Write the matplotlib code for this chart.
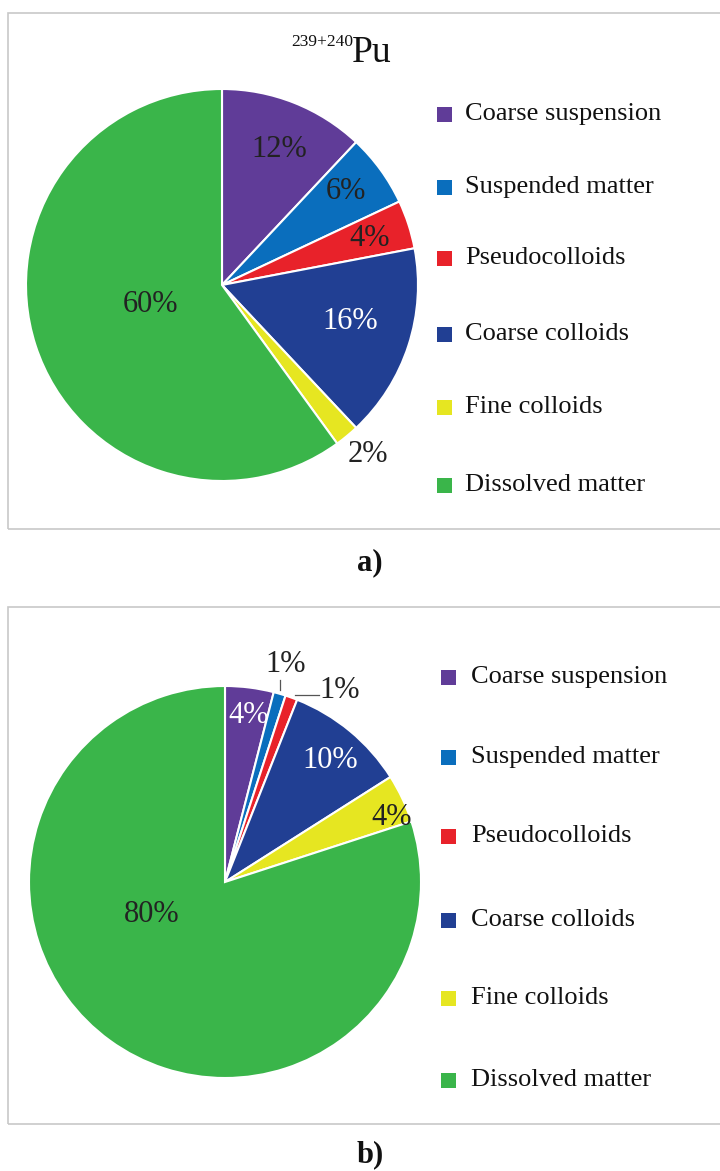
import numpy as np
import matplotlib
matplotlib.use("Agg")
import matplotlib.pyplot as plt
from matplotlib.patches import Rectangle
from matplotlib.lines import Line2D

plt.rcParams['font.family'] = ['Liberation Serif', 'DejaVu Serif']

# ---- data ----
categories = ["Coarse suspension", "Suspended matter", "Pseudocolloids",
              "Coarse colloids", "Fine colloids", "Dissolved matter"]
shares_a = [12, 6, 4, 16, 2, 60]
shares_b = [4, 1, 1, 10, 4, 80]
title_mass = "239+240"
title_elem = "Pu"
panel_tags = ["a)", "b)"]

colors = ["#603C98", "#0A6EBD", "#E8222A", "#213F93", "#E6E621", "#3AB54A"]

W, H = 720, 1171
fig = plt.figure(figsize=(W / 100, H / 100), dpi=100)


def fx(x):
    return x / W


def fy(y):
    return 1 - y / H


def pie_axes(cx, cy, r):
    return fig.add_axes([fx(cx - r), fy(cy + r), 2 * r / W, 2 * r / H])


# panel frames
for top, bottom in [(13, 529), (607, 1124)]:
    fig.patches.append(Rectangle((fx(8), fy(bottom)), fx(740) - fx(8), fy(top) - fy(bottom),
                                 transform=fig.transFigure, fill=False,
                                 edgecolor="#C8C8C8", linewidth=1.2))

# label placement per slice: (radial distance, angle nudge in degrees, text colour)
label_style_a = [(0.75, -1.5, "#222222"), (0.79, 1.0, "#222222"), (0.79, -0.5, "#222222"),
                 (0.68, 2.0, "white"), (1.14, 1.0, "#222222"), (0.38, -2.5, "#222222")]
label_style_b = [(0.86, -1.0, "white"), (1.15, 0.7, "#222222"), (1.14, -11.0, "#222222"),
                 (0.82, -1.5, "white"), (0.91, -4.0, "#222222"), (0.41, -30.0, "#222222")]


def draw_pie(cx, cy, r, values, styles):
    ax = pie_axes(cx, cy, r)
    wedges, _ = ax.pie(values, colors=colors, startangle=90, counterclock=False,
                       radius=1.0, wedgeprops=dict(edgecolor="white", linewidth=1.5))
    ax.set_xlim(-1, 1)
    ax.set_ylim(-1, 1)
    ax.set_aspect("auto")
    ax.axis("off")
    mids = []
    for w, v, (dist, nudge, col) in zip(wedges, values, styles):
        mid = np.deg2rad((w.theta1 + w.theta2) / 2)
        mids.append(mid)
        ang = mid + np.deg2rad(nudge)
        ax.text(dist * np.cos(ang), dist * np.sin(ang), f"{v}%",
                ha="center", va="center", fontsize=22, color=col, clip_on=False)
    return ax, mids


# panel a
ax_a, _ = draw_pie(222, 285, 196, shares_a, label_style_a)

# panel b
ax_b, mids_b = draw_pie(225, 882, 196, shares_b, label_style_b)

# leader lines for the two thin slices of panel b
m1 = mids_b[1]
x1, y1 = np.cos(m1), np.sin(m1)
ax_b.add_line(Line2D([x1, x1], [y1 + 0.02, y1 + 0.07], color="#555555",
                     linewidth=0.9, clip_on=False))
m2 = mids_b[2]
x2, y2 = np.cos(m2), np.sin(m2)
ax_b.add_line(Line2D([x2 + 0.02, x2 + 0.14], [y2 + 0.015, y2 + 0.015], color="#555555",
                     linewidth=0.9, clip_on=False))

# title
fig.text(fx(353), fy(46), title_mass, fontsize=12.5, ha="right", va="baseline", color="#111111")
fig.text(fx(352), fy(62), title_elem, fontsize=27, ha="left", va="baseline", color="#111111")

# legends
legend_rows = [
    (437, 465, [114, 187, 258, 334, 407, 485]),
    (441, 471, [677, 757, 836, 920, 998, 1080]),
]
for sq_x, tx_x, ys in legend_rows:
    for name, col, y in zip(categories, colors, ys):
        fig.patches.append(Rectangle((fx(sq_x), fy(y + 8)), 15 / W, 15 / H,
                                     transform=fig.transFigure, facecolor=col,
                                     edgecolor="none"))
        fig.text(fx(tx_x), fy(y), name, fontsize=19, ha="left", va="center",
                 color="#111111")

# panel tags
for tag, y in zip(panel_tags, [563, 1155]):
    fig.text(fx(370), fy(y), tag, fontsize=22, fontweight="bold", ha="center",
             va="center", color="#111111")

fig.savefig("out.png", dpi=100)
